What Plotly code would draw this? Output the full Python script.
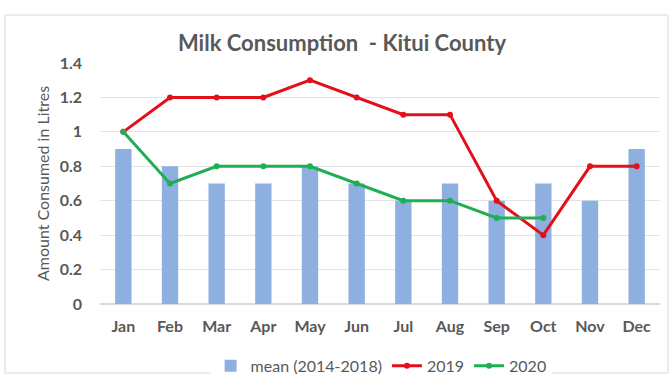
import plotly.graph_objects as go

months = ["Jan", "Feb", "Mar", "Apr", "May", "Jun", "Jul", "Aug", "Sep", "Oct", "Nov", "Dec"]
mean_2014_2018 = [0.9, 0.8, 0.7, 0.7, 0.8, 0.7, 0.6, 0.7, 0.6, 0.7, 0.6, 0.9]
months_2019 = months
values_2019 = [1.0, 1.2, 1.2, 1.2, 1.3, 1.2, 1.1, 1.1, 0.6, 0.4, 0.8, 0.8]
months_2020 = months[:10]
values_2020 = [1.0, 0.7, 0.8, 0.8, 0.8, 0.7, 0.6, 0.6, 0.5, 0.5]
y_ticks = [0, 0.2, 0.4, 0.6, 0.8, 1, 1.2, 1.4]
y_tick_labels = ["0", "0.2", "0.4", "0.6", "0.8", "1", "1.2", "1.4"]

FONT = "Lato, 'Open Sans', sans-serif"
GRAY = "#595959"

fig = go.Figure()
fig.add_trace(go.Bar(x=months, y=mean_2014_2018, name="mean (2014-2018)",
                     marker=dict(color="#8DB0E1", line=dict(width=0))))
fig.add_trace(go.Scatter(x=months_2019, y=values_2019, name="2019", mode="lines+markers",
                         line=dict(color="#E3101B", width=3), marker=dict(size=6, color="#E3101B")))
fig.add_trace(go.Scatter(x=months_2020, y=values_2020, name="2020", mode="lines+markers",
                         line=dict(color="#1EAF55", width=3), marker=dict(size=6, color="#1EAF55")))

fig.update_layout(
    width=669, height=374,
    margin=dict(l=100, r=9, t=63, b=70, autoexpand=False),
    paper_bgcolor="white", plot_bgcolor="white",
    font=dict(family=FONT, color=GRAY, size=13),
    title=dict(text="<b>Milk Consumption  - Kitui County</b>", x=(342 - 100) / 560, xref="paper",
               xanchor="center", y=1 - 43 / 374, yanchor="middle",
               font=dict(size=22, color=GRAY, family=FONT)),
    bargap=0.65,
    showlegend=True,
    legend=dict(orientation="h", x=0.502, xanchor="center", y=-0.257, yanchor="middle",
                font=dict(size=16, color=GRAY), traceorder="normal", itemwidth=30),
    xaxis=dict(range=[-0.5, 11.5], showgrid=False, showline=False, ticks="", automargin=False,
               tickvals=months, ticktext=["<b>" + m + "</b>" for m in months],
               tickfont=dict(size=16, color=GRAY, family=FONT), ticklabelstandoff=11),
    yaxis=dict(range=[0, 1.4], tickvals=y_ticks, ticktext=["<b>" + t + "</b>" for t in y_tick_labels],
               automargin=False,
               showgrid=True, gridcolor="#E3E3E3", gridwidth=1, zeroline=True, zerolinecolor="#D9D9D9",
               showline=False, ticks="", tickfont=dict(size=16, color=GRAY, family=FONT),
               ticklabelstandoff=17,
               title=dict(text="Amount Consumed in Litres", font=dict(size=16, color=GRAY, family=FONT),
                          standoff=6)),
    shapes=[dict(type="rect", xref="paper", yref="paper",
                 x0=(5 - 100) / 560, x1=(668 - 100) / 560,
                 y0=-(373 - 304) / 241, y1=(304 - 15) / 241,
                 line=dict(color="#D9D9D9", width=1), fillcolor="rgba(0,0,0,0)", layer="below")],
)
fig.write_html("out.html", config={"displayModeBar": False},
               post_script="document.body.style.margin='0';document.body.style.overflow='hidden';")
